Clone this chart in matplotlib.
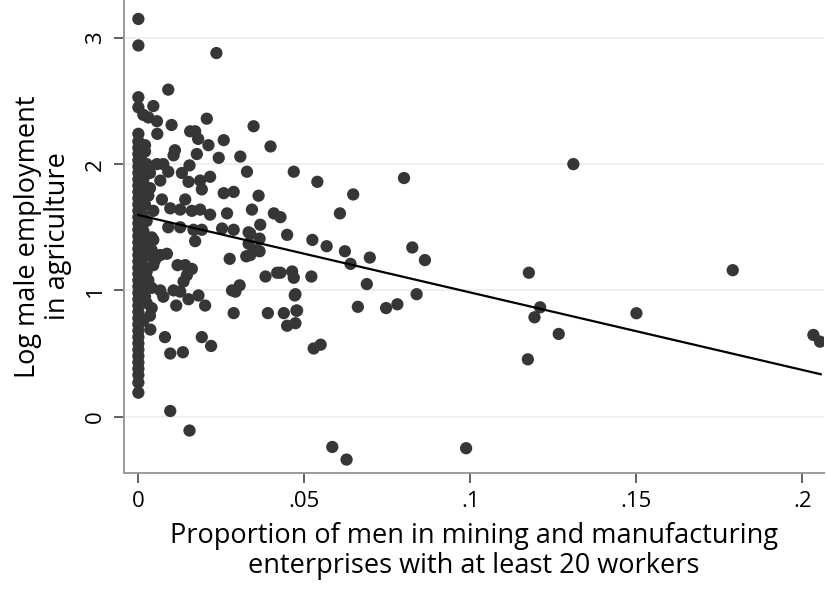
import matplotlib
matplotlib.use("Agg")
import matplotlib.pyplot as plt

plt.rcParams['font.family'] = ['Open Sans', 'DejaVu Sans']

# Proportion of men in mining/manufacturing (x) and log male employment in agriculture (y)
x_zero_col = [0.0] * 45
y_zero_col = [0.19, 0.27, 0.33, 0.38, 0.43, 0.48, 0.53, 0.58, 0.63, 0.68, 0.73, 0.78,
              0.83, 0.88, 0.93, 0.98, 1.03, 1.08, 1.13, 1.18, 1.23, 1.28, 1.33, 1.38,
              1.43, 1.48, 1.53, 1.58, 1.63, 1.68, 1.73, 1.78, 1.83, 1.88, 1.93, 1.98,
              2.03, 2.08, 2.13, 2.18, 2.24, 2.45, 2.53, 2.94, 3.15]

x_near_zero = [0.002, 0.003, 0.0015, 0.003, 0.002, 0.0025, 0.0015, 0.003, 0.002, 0.0025,
               0.003, 0.002, 0.0025, 0.0015, 0.0015, 0.003, 0.002, 0.0012, 0.0012, 0.0012,
               0.0012, 0.0012, 0.0012]
y_near_zero = [2.10, 1.97, 1.88, 1.75, 1.68, 1.55, 1.47, 1.35, 1.27, 1.15,
               1.08, 0.95, 0.90, 0.76, 2.39, 2.37, 2.15, 2.02, 1.80, 1.60,
               1.40, 1.20, 1.00]

x_rest = [0.0235, 0.009, 0.0045, 0.0056, 0.0206, 0.010, 0.0347, 0.0156, 0.0171, 0.0057,
          0.018, 0.0257, 0.0211, 0.0398, 0.011, 0.0106, 0.0176, 0.0242, 0.0307, 0.0025,
          0.0056, 0.0075, 0.0154, 0.0327, 0.0468, 0.0539, 0.0035, 0.009, 0.0131, 0.0216,
          0.0151, 0.0066, 0.0186, 0.0191, 0.0035, 0.0257, 0.0287, 0.0362, 0.0071, 0.0141,
          0.0408, 0.0428, 0.0342, 0.0267, 0.0096, 0.0126, 0.0161, 0.0186, 0.0045, 0.0216,
          0.009, 0.0126, 0.0166, 0.0191, 0.0252, 0.0287, 0.0332, 0.0367, 0.0448, 0.0524,
          0.004, 0.080, 0.0647, 0.0607, 0.0567, 0.0622, 0.0639, 0.0697, 0.0825, 0.0863,
          0.0688, 0.0838, 0.0661, 0.0746, 0.078, 0.0463, 0.0468, 0.0428, 0.0521, 0.0473,
          0.0438, 0.0476, 0.0448, 0.0473, 0.0528, 0.0549, 0.0584, 0.0627, 0.0987, 0.131,
          0.1176, 0.121, 0.1193, 0.1266, 0.1173, 0.150, 0.179, 0.2033, 0.2053,
          0.0096, 0.0154, 0.0036, 0.008, 0.0096, 0.0134, 0.0191, 0.0219, 0.0287, 0.039,
          0.0114, 0.0201, 0.004, 0.0035, 0.0282, 0.0292, 0.0305, 0.004, 0.0066, 0.0106,
          0.0075, 0.0126, 0.0151, 0.0181, 0.0383, 0.0418, 0.0471, 0.0478, 0.0118, 0.0141,
          0.0161, 0.0146, 0.0136, 0.0066, 0.0086, 0.005, 0.004, 0.0045, 0.0045, 0.0275,
          0.0325, 0.0357, 0.0332, 0.0365, 0.0171, 0.0337, 0.0365, 0.0337]
y_rest = [2.88, 2.59, 2.46, 2.34, 2.36, 2.31, 2.30, 2.26, 2.26, 2.24,
          2.20, 2.19, 2.15, 2.14, 2.11, 2.07, 2.08, 2.05, 2.06, 2.00,
          2.00, 2.00, 1.99, 1.94, 1.94, 1.86, 1.93, 1.94, 1.93, 1.90,
          1.86, 1.87, 1.87, 1.80, 1.81, 1.77, 1.78, 1.75, 1.72, 1.72,
          1.61, 1.58, 1.64, 1.61, 1.65, 1.64, 1.63, 1.64, 1.63, 1.60,
          1.50, 1.50, 1.48, 1.48, 1.49, 1.48, 1.46, 1.52, 1.44, 1.40,
          1.42, 1.89, 1.76, 1.61, 1.35, 1.31, 1.21, 1.26, 1.34, 1.24,
          1.05, 0.97, 0.87, 0.86, 0.89, 1.15, 1.10, 1.14, 1.11, 0.97,
          0.82, 0.84, 0.72, 0.74, 0.54, 0.57, -0.24, -0.34, -0.25, 2.00,
          1.14, 0.866, 0.787, 0.655, 0.454, 0.819, 1.16, 0.647, 0.594,
          0.045, -0.11, 0.69, 0.63, 0.50, 0.51, 0.63, 0.56, 0.82, 0.82,
          0.88, 0.88, 0.86, 0.80, 1.00, 0.99, 1.04, 1.02, 1.00, 1.00,
          0.95, 0.99, 0.93, 0.96, 1.11, 1.14, 0.96, 0.84, 1.20, 1.20,
          1.17, 1.12, 1.07, 1.28, 1.29, 1.24, 1.32, 1.40, 1.20, 1.25,
          1.27, 1.32, 1.37, 1.41, 1.39, 1.45, 1.31, 1.28]

fit_x = [0.0, 0.2055]
fit_y = [1.597, 0.336]

x_ticks = [0, 0.05, 0.1, 0.15, 0.2]
x_tick_labels = ['0', '.05', '.1', '.15', '.2']
y_ticks = [0, 1, 2, 3]
y_tick_labels = ['0', '1', '2', '3']

xs = x_zero_col + x_near_zero + x_rest
ys = y_zero_col + y_near_zero + y_rest

fig = plt.figure(figsize=(8.28, 5.89), dpi=100)
ax = fig.add_axes([0.1498, 0.197, 0.845, 0.803])
ax.set_xlim(-0.00432, 0.2064)
ax.set_ylim(-0.446, 3.30)

for yv in y_ticks:
    ax.axhline(yv, color='#ececec', lw=1.2, zorder=0)

ax.scatter(xs, ys, s=78, color='#363636', edgecolors='none', zorder=2)
ax.plot(fit_x, fit_y, color='black', lw=1.6, zorder=3)

ax.set_xticks(x_ticks)
ax.set_xticklabels(x_tick_labels, fontsize=16)
ax.set_yticks(y_ticks)
ax.set_yticklabels(y_tick_labels, fontsize=16, rotation=90, va='center')

for side in ['top', 'right']:
    ax.spines[side].set_visible(False)
for side in ['left', 'bottom']:
    ax.spines[side].set_color('#9a9a9a')
    ax.spines[side].set_linewidth(1.4)
ax.tick_params(axis='both', length=7, width=1.3, color='#555555', pad=6)

ax.set_xlabel('Proportion of men in mining and manufacturing\nenterprises with at least 20 workers',
              fontsize=19.5, linespacing=1.1, labelpad=7)
ax.set_ylabel('Log male employment\nin agriculture', fontsize=19.5, linespacing=1.1, labelpad=9)

fig.savefig('out.png', dpi=100)
